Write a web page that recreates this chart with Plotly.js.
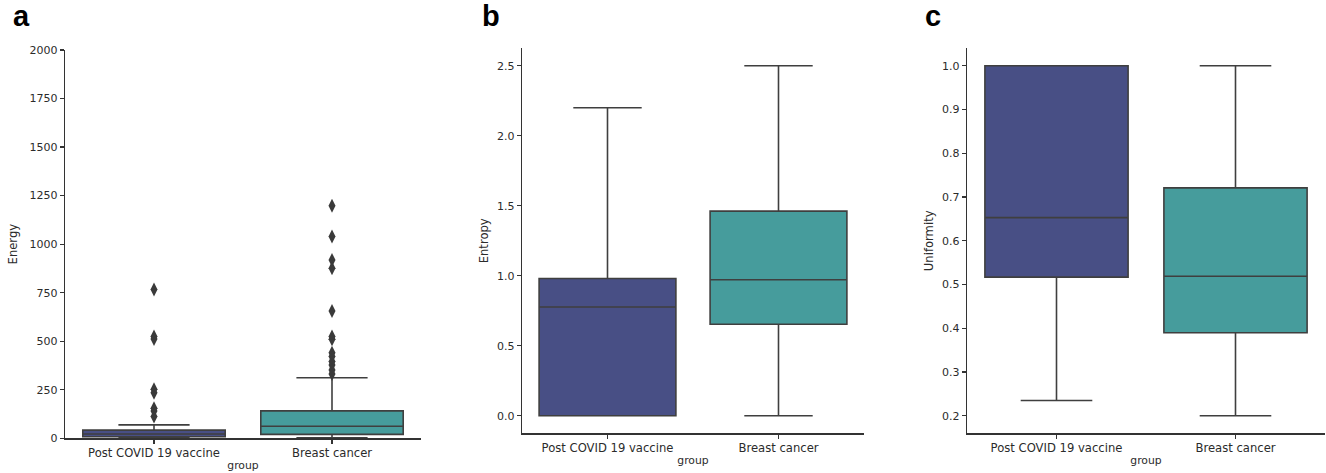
<!DOCTYPE html>
<html>
<head>
<meta charset="utf-8">
<script src="https://cdn.plot.ly/plotly-3.0.1.min.js"></script>
<style>html,body{margin:0;padding:0;background:#fff;}#chart{width:1326px;height:473px;}</style>
</head>
<body>
<div id="chart"></div>
<script>
// ---- data ----
const groups = ["Post COVID 19 vaccine", "Breast cancer"];

// Panel a: Energy
const energyLower  = [0, 2];
const energyQ1     = [8, 20];
const energyMedian = [22, 62];
const energyQ3     = [42, 141];
const energyUpper  = [69, 312];
const energyOutliersCovid  = [767, 524, 512, 252, 235, 155, 141, 112];
const energyOutliersCancer = [1198, 1039, 918, 876, 656, 524, 510, 441, 421, 395, 378, 352, 331];

// Panel b: Entropy
const entropyLower  = [0, 0];
const entropyQ1     = [0, 0.654];
const entropyMedian = [0.777, 0.972];
const entropyQ3     = [0.981, 1.462];
const entropyUpper  = [2.2, 2.5];

// Panel c: Uniformity
const uniformLower  = [0.235, 0.2];
const uniformQ1     = [0.517, 0.39];
const uniformMedian = [0.653, 0.519];
const uniformQ3     = [1.0, 0.721];
const uniformUpper  = [1.0, 1.0];

const energyTicks  = [0, 250, 500, 750, 1000, 1250, 1500, 1750, 2000];
const entropyTicks = [0.0, 0.5, 1.0, 1.5, 2.0, 2.5];
const uniformTicks = [0.2, 0.3, 0.4, 0.5, 0.6, 0.7, 0.8, 0.9, 1.0];

// ---- styling ----
const fills = ["#484f85", "#469c9c"];
const lineCol = "#3f3f3f";
const W = 1326, H = 473;

function boxTraces(lower, q1, med, q3, upper, xa, ya) {
  return groups.map((g, i) => ({
    type: "box",
    x: [g],
    q1: [q1[i]], median: [med[i]], q3: [q3[i]],
    lowerfence: [lower[i]], upperfence: [upper[i]],
    fillcolor: fills[i],
    line: {color: lineCol, width: 1.6},
    whiskerwidth: 0.5,
    width: 0.8,
    boxpoints: false,
    hoverinfo: "skip",
    showlegend: false,
    xaxis: xa, yaxis: ya
  }));
}

function outlierTrace(g, vals) {
  return {
    type: "scatter", mode: "markers",
    x: vals.map(() => g), y: vals,
    marker: {symbol: "diamond-tall", size: 10, color: "#3a3a3a", line: {width: 0}},
    hoverinfo: "skip", showlegend: false,
    xaxis: "x", yaxis: "y"
  };
}

const data = [
  ...boxTraces(energyLower, energyQ1, energyMedian, energyQ3, energyUpper, "x", "y"),
  outlierTrace(groups[0], energyOutliersCovid),
  outlierTrace(groups[1], energyOutliersCancer),
  ...boxTraces(entropyLower, entropyQ1, entropyMedian, entropyQ3, entropyUpper, "x2", "y2"),
  ...boxTraces(uniformLower, uniformQ1, uniformMedian, uniformQ3, uniformUpper, "x3", "y3")
];

const yTickFont = {family: "DejaVu Sans, sans-serif", size: 11, color: "#2b2b2b"};
const xTickFont = {family: "DejaVu Sans, sans-serif", size: 11.6, color: "#2b2b2b"};
const xTitleFont = {family: "DejaVu Sans, sans-serif", size: 10.8, color: "#2b2b2b"};
const yTitleFont = {family: "DejaVu Sans, sans-serif", size: 11.6, color: "#2b2b2b"};

function xAxis(dom, anchor) {
  return {
    domain: [dom[0] / W, dom[1] / W], anchor: anchor,
    type: "category", categoryorder: "array", categoryarray: groups,
    range: [-0.5, 1.5], showgrid: false, zeroline: false,
    showline: true, linecolor: "#333", linewidth: 1.2,
    ticks: "outside", ticklen: 4, tickcolor: "#333", tickwidth: 1.2,
    tickfont: xTickFont,
    title: {text: "group", font: xTitleFont, standoff: 2},
    fixedrange: true
  };
}
function yAxis(dom, anchor, range, tickvals, fmt, label, standoff) {
  return {
    domain: [1 - dom[1] / H, 1 - dom[0] / H], anchor: anchor,
    range: range, tickvals: tickvals, tickformat: fmt,
    showgrid: false, zeroline: false,
    showline: true, linecolor: "#333", linewidth: 1.2,
    ticks: "outside", ticklen: 4, tickcolor: "#333", tickwidth: 1.2,
    tickfont: yTickFont,
    title: {text: label, font: yTitleFont, standoff: standoff},
    fixedrange: true
  };
}

const layout = {
  width: W, height: H,
  margin: {l: 0, r: 0, t: 0, b: 0},
  paper_bgcolor: "#fff", plot_bgcolor: "#fff",
  boxmode: "overlay",
  xaxis:  xAxis([65, 421], "y"),
  yaxis:  yAxis([50, 438.3], "x", [0, 2000], energyTicks, "d", "Energy", 9),
  xaxis2: xAxis([522, 864], "y2"),
  yaxis2: yAxis([48.3, 433.3], "x2", [-0.125, 2.625], entropyTicks, ".1f", "Entropy", 6),
  xaxis3: xAxis([967, 1325], "y3"),
  yaxis3: yAxis([48.3, 433.3], "x3", [0.16, 1.04], uniformTicks, ".1f", "Uniformity", 6),
  annotations: [
    {text: "a", x: 11 / W, y: 1 - 34 / H},
    {text: "b", x: 480 / W, y: 1 - 34 / H},
    {text: "c", x: 923 / W, y: 1 - 34 / H}
  ].map(a => Object.assign(a, {
    xref: "paper", yref: "paper", xanchor: "left", yanchor: "bottom",
    showarrow: false,
    font: {family: "Liberation Sans, Arial, sans-serif", size: 29, color: "#000", weight: "bold"}
  }))
};

Plotly.newPlot("chart", data, layout, {displayModeBar: false, staticPlot: true});
</script>
</body>
</html>
